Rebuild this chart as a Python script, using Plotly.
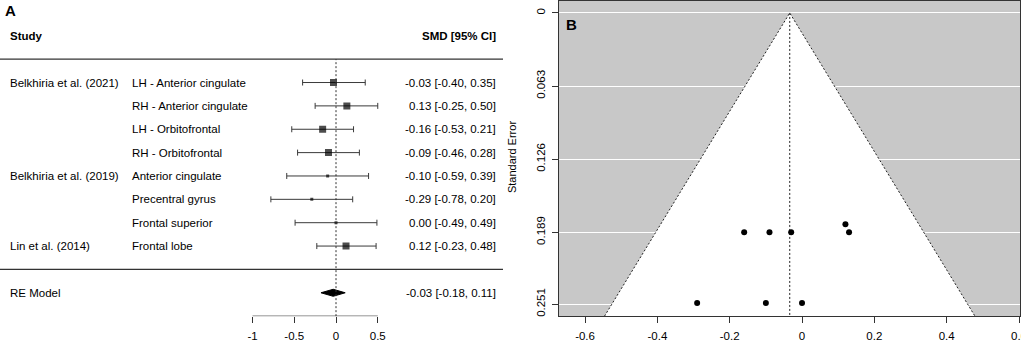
import plotly.graph_objects as go

# ---------------- data ----------------
studies = ["Belkhiria et al. (2021)", "", "", "", "Belkhiria et al. (2019)", "", "", "Lin et al. (2014)"]
regions = ["LH - Anterior cingulate", "RH - Anterior cingulate", "LH - Orbitofrontal", "RH - Orbitofrontal",
           "Anterior cingulate", "Precentral gyrus", "Frontal superior", "Frontal lobe"]
smd = [-0.03, 0.13, -0.16, -0.09, -0.10, -0.29, 0.00, 0.12]
ci_low = [-0.40, -0.25, -0.53, -0.46, -0.59, -0.78, -0.49, -0.23]
ci_high = [0.35, 0.50, 0.21, 0.28, 0.39, 0.20, 0.49, 0.48]
std_err = [0.189, 0.189, 0.189, 0.189, 0.250, 0.250, 0.250, 0.182]
pooled_est = -0.034
pooled_low = -0.18
pooled_high = 0.11
forest_ticks = [-1, -0.5, 0, 0.5]
funnel_xticks = [-0.6, -0.4, -0.2, 0, 0.2, 0.4, 0.6]
funnel_xticktext = ["-0.6", "-0.4", "-0.2", "0", "0.2", "0.4", "0.6"]
funnel_yticks = [0, 0.063, 0.126, 0.189, 0.251]
funnel_yticktext = ["0", "0.063", "0.126", "0.189", "0.251"]

# ---------------- style ----------------
W, H = 1021, 342
FONT = "Liberation Sans, Arial, sans-serif"
FS = 11.5
square_sizes = [7, 7, 7, 7, 3, 3, 3, 7]
DARK = "#333333"
GRAY_BG = "#c8c8c8"

def px(xp):
    return xp / W

def py(yp):
    return 1 - yp / H

k = len(smd)
rows = list(range(k, 0, -1))  # 8..1

fig = go.Figure()

# ---------------- Panel A: forest plot ----------------
fig.add_trace(go.Scatter(
    x=smd, y=rows, mode="markers",
    marker=dict(size=1, color="rgba(0,0,0,0)"),
    error_x=dict(type="data", symmetric=False,
                 array=[h - e for h, e in zip(ci_high, smd)],
                 arrayminus=[e - l for e, l in zip(smd, ci_low)],
                 color="#3a3a3a", thickness=1, width=3),
    xaxis="x", yaxis="y", showlegend=False, hoverinfo="skip"))
fig.add_trace(go.Scatter(
    x=smd, y=rows, mode="markers",
    marker=dict(symbol="square", size=square_sizes, color="black", line=dict(width=0)),
    xaxis="x", yaxis="y", showlegend=False, hoverinfo="skip"))

dh = 0.15
fig.add_trace(go.Scatter(
    x=[pooled_low, pooled_est, pooled_high, pooled_est, pooled_low],
    y=[-1, -1 + dh, -1, -1 - dh, -1],
    mode="lines", fill="toself", fillcolor="black", line=dict(color="black", width=1),
    xaxis="x", yaxis="y", showlegend=False, hoverinfo="skip"))

# ---------------- Panel B: funnel plot ----------------
ylo, yhi = -0.0103, 0.2613
tri_x = [pooled_est - 1.96 * yhi, pooled_est, pooled_est + 1.96 * yhi]
tri_y = [yhi, 0, yhi]

fig.add_trace(go.Scatter(
    x=tri_x, y=tri_y, mode="lines",
    line=dict(color="#222222", width=1, dash="2px,2px"),
    xaxis="x2", yaxis="y2", showlegend=False, hoverinfo="skip"))
fig.add_trace(go.Scatter(
    x=[pooled_est, pooled_est], y=[0, yhi], mode="lines",
    line=dict(color="#222222", width=1, dash="2px,2px"),
    xaxis="x2", yaxis="y2", showlegend=False, hoverinfo="skip"))
fig.add_trace(go.Scatter(
    x=smd, y=std_err, mode="markers",
    marker=dict(symbol="circle", size=6, color="black"),
    xaxis="x2", yaxis="y2", showlegend=False, hoverinfo="skip"))

shapes = []
# gray background for funnel panel
shapes.append(dict(type="rect", xref="x2 domain", yref="y2 domain", x0=0, x1=1, y0=0, y1=1,
                   fillcolor=GRAY_BG, line=dict(width=0), layer="below"))
shapes.append(dict(type="path", xref="x2", yref="y2",
                   path=f"M {tri_x[0]} {tri_y[0]} L {tri_x[1]} {tri_y[1]} L {tri_x[2]} {tri_y[2]} Z",
                   fillcolor="white", line=dict(width=0), layer="below"))

# forest horizontal separators
for r in [k + 1, 0]:
    shapes.append(dict(type="line", xref="paper", yref="y", x0=0, x1=px(503), y0=r, y1=r,
                       line=dict(color=DARK, width=1.2)))
# zero line
shapes.append(dict(type="line", xref="x", yref="y", x0=0, x1=0, y0=-2, y1=k + 1,
                   line=dict(color=DARK, width=1, dash="2px,2px")))
# forest axis line
shapes.append(dict(type="line", xref="x", yref="y", x0=forest_ticks[0], x1=forest_ticks[-1], y0=-2, y1=-2,
                   line=dict(color=DARK, width=1)))

annotations = []
tf = dict(family=FONT, size=FS, color="black")
for r, s, g, e, l, h in zip(rows, studies, regions, smd, ci_low, ci_high):
    if s:
        annotations.append(dict(x=px(8), y=r, xref="paper", yref="y", text=s, showarrow=False,
                                xanchor="left", yanchor="middle", font=tf))
    annotations.append(dict(x=px(130), y=r, xref="paper", yref="y", text=g, showarrow=False,
                            xanchor="left", yanchor="middle", font=tf))
    annotations.append(dict(x=px(498), y=r, xref="paper", yref="y",
                            text=f"{e:.2f} [{l:.2f}, {h:.2f}]", showarrow=False,
                            xanchor="right", yanchor="middle", font=tf))
annotations.append(dict(x=px(8), y=-1, xref="paper", yref="y", text="RE Model", showarrow=False,
                        xanchor="left", yanchor="middle", font=tf))
annotations.append(dict(x=px(498), y=-1, xref="paper", yref="y",
                        text=f"{pooled_est:.2f} [{pooled_low:.2f}, {pooled_high:.2f}]", showarrow=False,
                        xanchor="right", yanchor="middle", font=tf))
annotations.append(dict(x=px(8), y=k + 2, xref="paper", yref="y", text="<b>Study</b>", showarrow=False,
                        xanchor="left", yanchor="middle", font=tf))
annotations.append(dict(x=px(498), y=k + 2, xref="paper", yref="y", text="<b>SMD [95% CI]</b>",
                        showarrow=False, xanchor="right", yanchor="middle", font=tf))
annotations.append(dict(x=px(3), y=py(10), xref="paper", yref="paper", text="<b>A</b>", showarrow=False,
                        xanchor="left", yanchor="middle", font=dict(family=FONT, size=15, color="black")))
annotations.append(dict(x=px(564), y=py(23.5), xref="paper", yref="paper", text="<b>B</b>", showarrow=False,
                        xanchor="left", yanchor="middle", font=dict(family=FONT, size=15, color="black")))
annotations.append(dict(x=px(512), y=py(157), xref="paper", yref="paper", text="Standard Error",
                        showarrow=False, textangle=-90, xanchor="center", yanchor="middle",
                        font=dict(family=FONT, size=FS - 0.5, color="black")))
# last funnel tick label, partly beyond the window edge as in the reference
annotations.append(dict(x=funnel_xticks[-1], y=py(337), xref="x2", yref="paper", text=funnel_xticktext[-1],
                        showarrow=False, xanchor="center", yanchor="middle", font=tf))

# ---------------- layout ----------------
bottom = py(317)
x0A = -336 / 83.5
x1A = (520 - 336) / 83.5
fig.update_layout(
    width=W, height=H, margin=dict(l=0, r=0, t=0, b=0),
    paper_bgcolor="white", plot_bgcolor="rgba(0,0,0,0)",
    font=dict(family=FONT, size=FS, color="black"),
    xaxis=dict(domain=[0, px(520)], range=[x0A, x1A], anchor="y",
               tickvals=forest_ticks, ticktext=["-1", "-0.5", "0", "0.5"],
               ticks="outside", ticklen=6, tickcolor=DARK, showline=False, showgrid=False,
               zeroline=False, tickfont=dict(family=FONT, size=FS), ticklabelstandoff=3),
    yaxis=dict(domain=[bottom, 1], range=[-2, 270 / 23.5], anchor="x",
               visible=False, showgrid=False, zeroline=False),
    xaxis2=dict(domain=[px(559), px(1020)], range=[-0.672, 0.6027], anchor="y2",
                tickvals=funnel_xticks, ticktext=funnel_xticktext,
                ticks="outside", ticklen=6, tickcolor=DARK, showline=True, linecolor=DARK, linewidth=1,
                mirror=True, showgrid=False, zeroline=False, tickfont=dict(family=FONT, size=FS),
                ticklabelstandoff=3),
    yaxis2=dict(domain=[bottom, 1], range=[yhi, ylo], anchor="x2",
                tickvals=funnel_yticks, ticktext=funnel_yticktext, tickangle=-90,
                ticks="outside", ticklen=6, tickcolor=DARK, showline=True, linecolor=DARK, linewidth=1,
                mirror=True, showgrid=True, gridcolor="white", gridwidth=1, zeroline=False,
                tickfont=dict(family=FONT, size=FS), ticklabelstandoff=2),
    shapes=shapes, annotations=annotations,
)

fig.write_html("out.html", config={"displayModeBar": False, "staticPlot": True},
               post_script="document.body.style.margin='0px';document.body.style.padding='0px';"
                           "document.documentElement.style.overflow='hidden';")
